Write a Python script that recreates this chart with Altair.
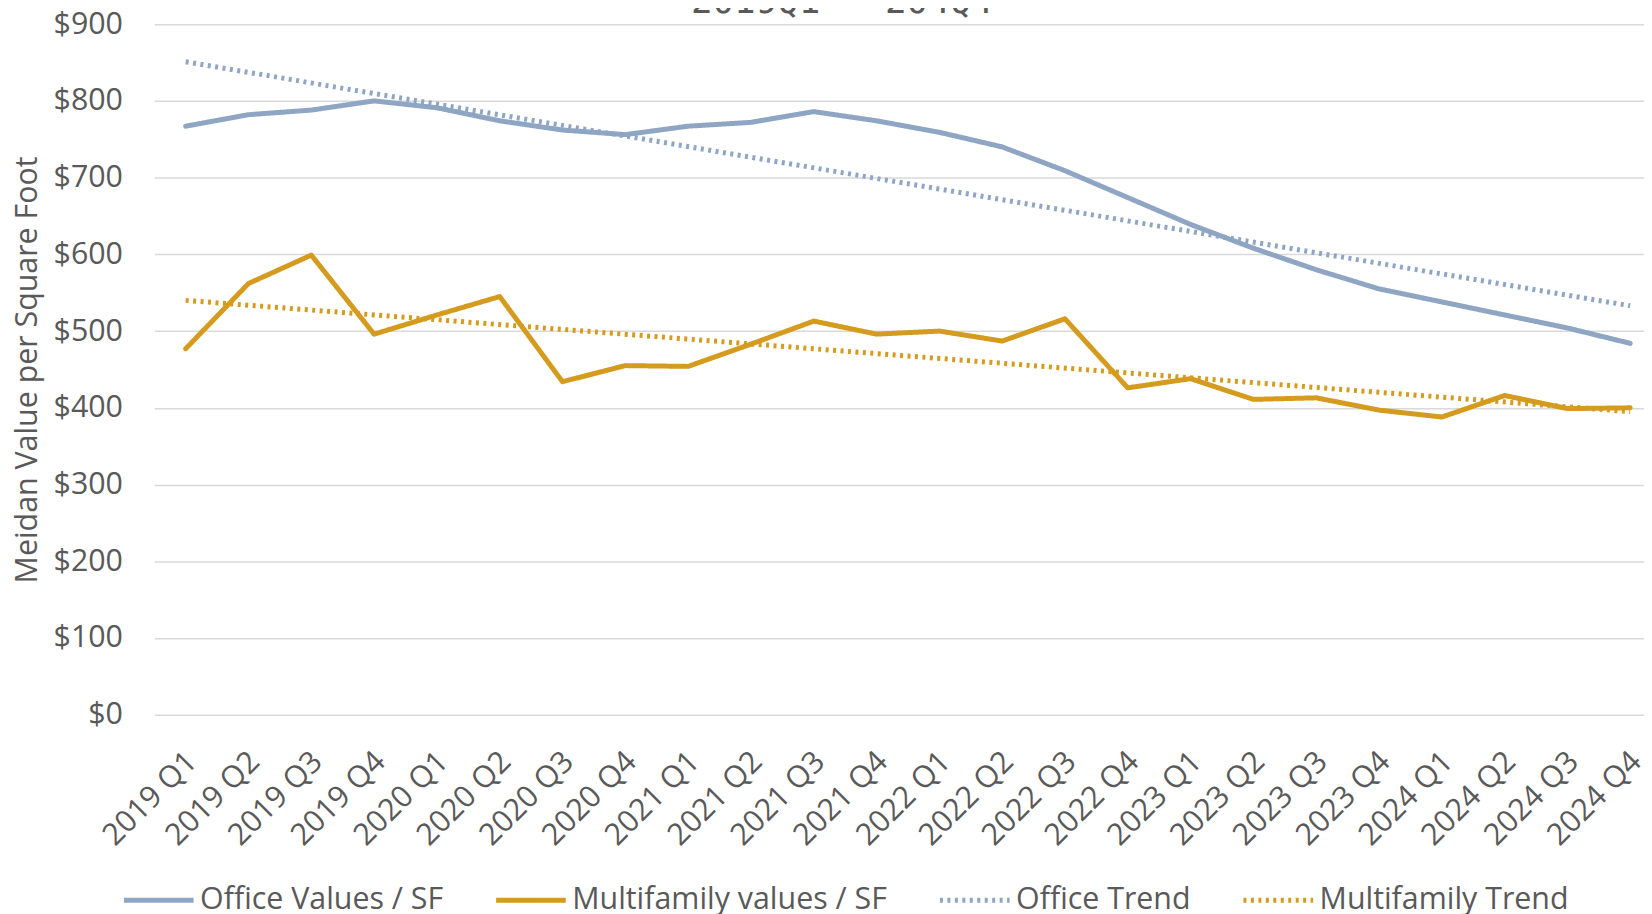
import json
import altair as alt
import pandas as pd

quarters = ["2019 Q1", "2019 Q2", "2019 Q3", "2019 Q4",
            "2020 Q1", "2020 Q2", "2020 Q3", "2020 Q4",
            "2021 Q1", "2021 Q2", "2021 Q3", "2021 Q4",
            "2022 Q1", "2022 Q2", "2022 Q3", "2022 Q4",
            "2023 Q1", "2023 Q2", "2023 Q3", "2023 Q4",
            "2024 Q1", "2024 Q2", "2024 Q3", "2024 Q4"]

office = [767, 782, 788, 800, 791, 774, 762, 756, 767, 772, 786, 774,
          759, 740, 709, 674, 639, 608, 580, 555, 538, 521, 504, 484]
multifamily = [477, 562, 599, 496, 521, 545, 434, 455, 454, 483, 513, 496,
               500, 487, 516, 426, 438, 411, 413, 397, 388, 416, 399, 400]

# trend lines read at first and last quarter
trend_idx = [0, 23]
office_trend = [851, 533]
multifamily_trend = [540, 395]

series_names = ["Office Values / SF", "Multifamily values / SF",
                "Office Trend", "Multifamily Trend"]
series_colors = ["#8EA5C3", "#D49B1E", "#8EA5C3", "#D49B1E"]
series_dash = [[1, 0], [1, 0], [3, 4.5], [3, 4.5]]
series_width = [5, 5, 3, 3]

title_text = "2019Q1 - 204Q4"

rows = []
for i, v in enumerate(office):
    rows.append({"idx": i, "value": v, "series": series_names[0], "kind": "actual"})
for i, v in enumerate(multifamily):
    rows.append({"idx": i, "value": v, "series": series_names[1], "kind": "actual"})
for i, v in zip(trend_idx, office_trend):
    rows.append({"idx": i, "value": v, "series": series_names[2], "kind": "trend"})
for i, v in zip(trend_idx, multifamily_trend):
    rows.append({"idx": i, "value": v, "series": series_names[3], "kind": "trend"})
df = pd.DataFrame(rows)

FONT = "Open Sans"
GRAY = "#595959"
FS = 30.5

label_expr = json.dumps(quarters) + "[datum.value]"

x_enc = alt.X("idx:Q",
              scale=alt.Scale(domain=[-0.5, 23.22], nice=False, zero=False),
              axis=alt.Axis(values=list(range(len(quarters))), labelExpr=label_expr,
                            labelAngle=-45, labelAlign="right", labelBaseline="middle",
                            labelPadding=42, labelOffset=6, ticks=False, domain=False,
                            grid=False, labelFontSize=FS, labelColor=GRAY, labelFont=FONT,
                            labelOverlap=False, labelFlush=False, title=None))
y_enc = alt.Y("value:Q",
              scale=alt.Scale(domain=[0, 900], nice=False),
              axis=alt.Axis(values=list(range(0, 1000, 100)), format="$,d",
                            grid=True, gridColor="#D9D9D9", gridWidth=1.5,
                            ticks=False, domain=False, labelPadding=32,
                            labelFontSize=FS, labelColor=GRAY, labelFont=FONT,
                            title="Meidan Value per Square Foot", titleFont=FONT,
                            titleFontSize=FS, titleFontWeight="normal", titleColor=GRAY,
                            titleX=-118, titleY=347, titleAngle=-90, titleAlign="center",
                            titleBaseline="alphabetic"))

legend = alt.Legend(orient="none", legendX=-33, legendY=843, direction="horizontal",
                    title=None, symbolType="stroke", symbolSize=4900,
                    labelFontSize=FS, labelFont=FONT, labelColor=GRAY,
                    columnPadding=42, labelOffset=4, padding=0, labelLimit=0)

color_enc = alt.Color("series:N", scale=alt.Scale(domain=series_names, range=series_colors),
                      legend=legend)
dash_enc = alt.StrokeDash("series:N", scale=alt.Scale(domain=series_names, range=series_dash),
                          legend=legend)
width_enc = alt.StrokeWidth("series:N", scale=alt.Scale(domain=series_names, range=series_width),
                            legend=legend)

base = alt.Chart(df)

actual = base.transform_filter(alt.datum.kind == "actual").mark_line(
    strokeCap="round", strokeJoin="round").encode(
    x=x_enc, y=y_enc, color=color_enc, strokeDash=dash_enc, strokeWidth=width_enc,
    detail="series:N")

trend = base.transform_filter(alt.datum.kind == "trend").mark_line().encode(
    x=x_enc, y=y_enc, color=color_enc, strokeDash=dash_enc, strokeWidth=width_enc,
    detail="series:N")

# chart title, mostly above the visible area as in the reference
title_layer = alt.Chart(pd.DataFrame({"t": [title_text]})).mark_text(
    font="DejaVu Sans Mono", fontSize=36, color=GRAY, align="center",
    baseline="alphabetic").encode(
    x=alt.value(691), y=alt.value(-11), text="t:N")

chart = alt.layer(actual, trend, title_layer).properties(
    width=1497, height=694,
    autosize=alt.AutoSizeParams(type="none"),
    padding={"left": 147, "top": 14, "right": 0, "bottom": 198},
    background="white",
).configure_view(stroke=None)

chart.save("out.html", embed_options={"renderer": "svg", "actions": False})
